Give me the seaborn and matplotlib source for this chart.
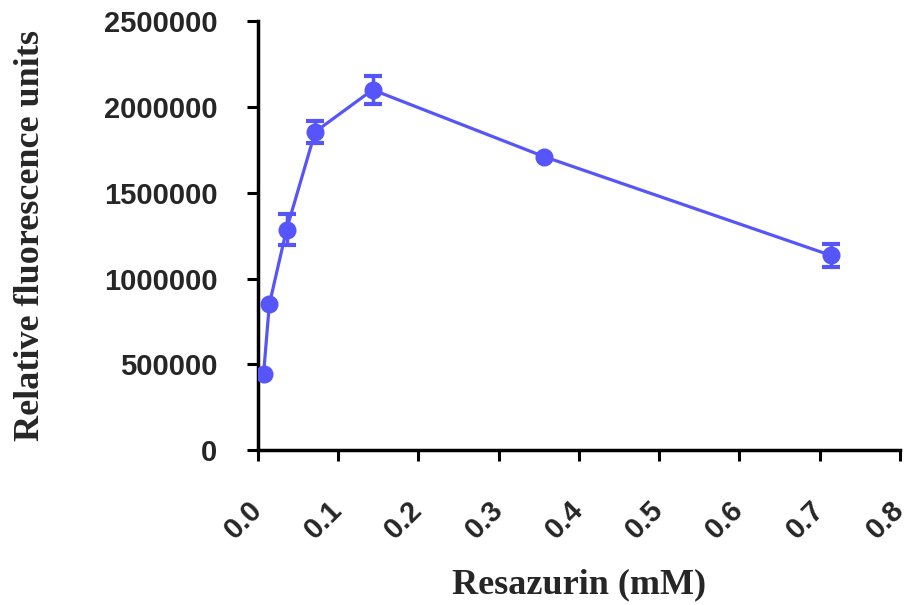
import matplotlib
matplotlib.use("Agg")
import matplotlib.pyplot as plt
import seaborn as sns
import pandas as pd

# Resazurin dose response
resazurin_mM = [0.00714, 0.0143, 0.0357, 0.0714, 0.143, 0.357, 0.714]
rfu_mean = [445000, 850000, 1285000, 1855000, 2100000, 1710000, 1135000]
rfu_sem = [0, 0, 90000, 63000, 82000, 0, 68000]

x_ticks = [0.0, 0.1, 0.2, 0.3, 0.4, 0.5, 0.6, 0.7, 0.8]
y_ticks = [0, 500000, 1000000, 1500000, 2000000, 2500000]

color = "#5555FA"

sns.set_theme(style="ticks")
plt.rcParams["font.family"] = ["Liberation Sans", "DejaVu Sans"]

df = pd.DataFrame({"conc": resazurin_mM, "rfu": rfu_mean, "sem": rfu_sem})
with_err = df[df["sem"] > 0]

fig = plt.figure(figsize=(9.08, 6.05), dpi=100)
ax = fig.add_axes([0.284, 0.256, 0.707, 0.709])

ax.errorbar(with_err["conc"], with_err["rfu"], yerr=with_err["sem"], fmt="none",
            ecolor=color, elinewidth=2.5, capsize=6.5, capthick=3, zorder=2)
sns.lineplot(data=df, x="conc", y="rfu", ax=ax, color=color, linewidth=2.3,
             marker="o", markersize=13, markeredgewidth=0, zorder=3)

ax.set_xlim(0, 0.8)
ax.set_ylim(0, 2500000)
ax.set_xticks(x_ticks)
ax.set_xticklabels([f"{v:.1f}" for v in x_ticks], rotation=45, ha="right",
                   va="center", rotation_mode="anchor", fontsize=21,
                   fontweight="bold")
ax.set_yticks(y_ticks)
ax.set_yticklabels([str(v) for v in y_ticks], fontsize=21, fontweight="bold")

for side in ("top", "right"):
    ax.spines[side].set_visible(False)
for side in ("left", "bottom"):
    ax.spines[side].set_linewidth(2.5)
    ax.spines[side].set_color("black")
ax.tick_params(axis="both", length=8, width=2.2, color="black")
ax.tick_params(axis="y", pad=21)
ax.tick_params(axis="x", pad=32)

ax.set_xlabel("Resazurin (mM)", fontsize=26, fontweight="bold",
              family=["Liberation Serif"])
ax.set_ylabel("Relative fluorescence units", fontsize=26, fontweight="bold",
              family=["Liberation Serif"])
ax.xaxis.set_label_coords(0.5, -0.3145)
ax.xaxis.label.set_va("center")
ax.yaxis.set_label_coords(-0.3545, 0.5)
ax.yaxis.label.set_va("center")
ax.yaxis.label.set_ha("center")

fig.savefig("out.png", dpi=100)
